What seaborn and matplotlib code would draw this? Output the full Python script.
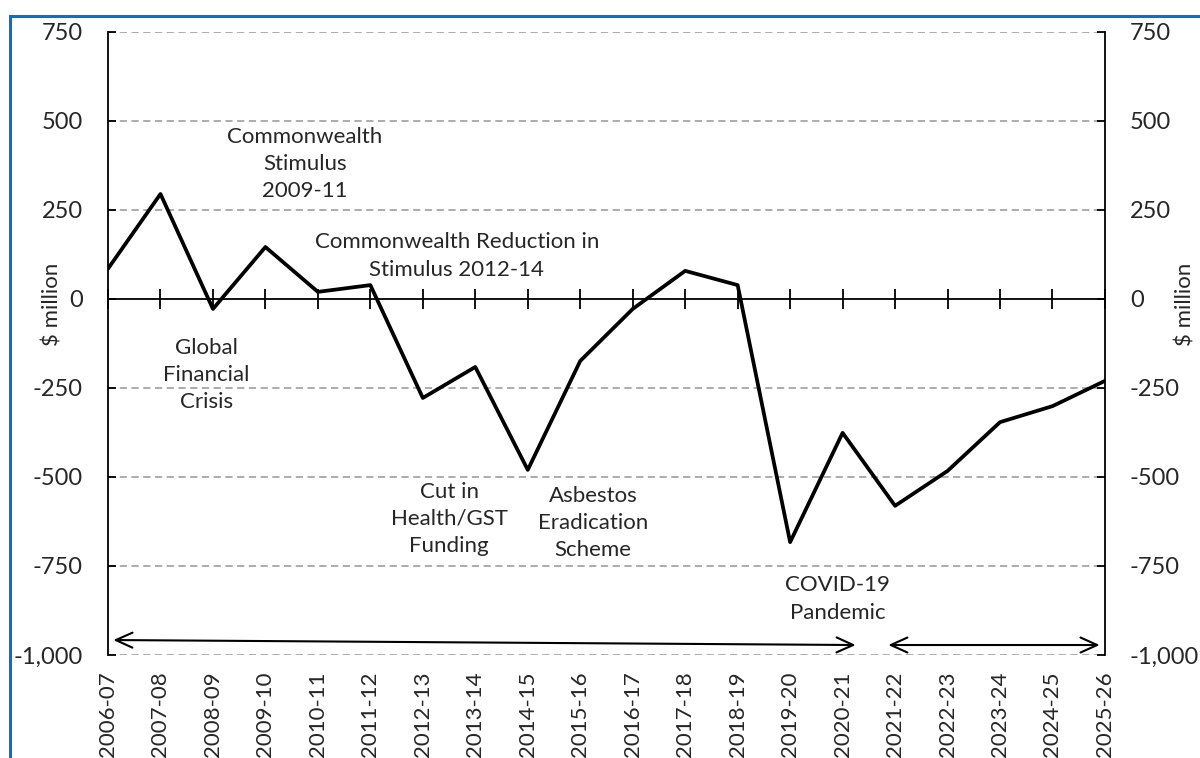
import matplotlib
matplotlib.use("Agg")
import matplotlib.pyplot as plt
import matplotlib.patches as mpatches
from matplotlib.ticker import FuncFormatter, MultipleLocator
import seaborn as sns
import pandas as pd

years = ["2006-07", "2007-08", "2008-09", "2009-10", "2010-11", "2011-12",
         "2012-13", "2013-14", "2014-15", "2015-16", "2016-17", "2017-18",
         "2018-19", "2019-20", "2020-21", "2021-22", "2022-23", "2023-24",
         "2024-25", "2025-26"]
balance = [85, 295, -28, 146, 20, 39, -278, -191, -480, -174, -28, 79,
           39, -683, -376, -581, -483, -346, -301, -230]

notes = [
    ("Commonwealth\nStimulus\n2009-11", 3.75, 379),
    ("Commonwealth Reduction in\nStimulus 2012-14", 6.65, 121),
    ("Global\nFinancial\nCrisis", 1.87, -213),
    ("Cut in\nHealth/GST\nFunding", 6.5, -618),
    ("Asbestos\nEradication\nScheme", 9.24, -629),
    ("COVID-19\nPandemic", 13.91, -843),
]

sns.set_theme(style="white")
plt.rcParams["font.family"] = ["Lato", "DejaVu Sans"]
FS = 16
TFS = 17

df = pd.DataFrame({"year": years, "balance": balance})

fig = plt.figure(figsize=(12, 7.58), dpi=100)
ax = fig.add_axes([0.09, 0.1359, 0.8308, 0.8219])

sns.lineplot(data=df, x="year", y="balance", sort=False, color="black",
             linewidth=2.7, ax=ax)

ax.set_xlim(0, len(years) - 1)
ax.set_ylim(-1000, 750)
ax.yaxis.set_major_locator(MultipleLocator(250))
fmt = FuncFormatter(lambda v, p: f"{v:,.0f}")
ax.yaxis.set_major_formatter(fmt)

# dashed grid, solid zero line
for v in [750, 500, 250, -250, -500, -750, -1000]:
    ax.axhline(v, color="#a6a6a6", linestyle=(0, (4, 2.5)), linewidth=1.3, zorder=0)
ax.axhline(0, color="black", linewidth=1.3, zorder=1)

for s in ["top", "bottom", "right"]:
    ax.spines[s].set_visible(False)
ax.spines["left"].set_color("black")
ax.spines["left"].set_linewidth(1.3)

ax.tick_params(axis="y", direction="in", length=6, width=1.3, color="black",
               labelsize=TFS, pad=18, left=True)
ax.tick_params(axis="x", length=0, labelsize=FS, pad=12, labelrotation=90)
ax.set_xlabel("")
ax.set_ylabel("$ million", fontsize=FS)
ax.yaxis.set_label_coords(-0.046, 0.562)

# category ticks crossing the zero line
zx = ax.secondary_xaxis(1000 / 1750)
zx.set_xticks(range(len(years)))
zx.tick_params(direction="inout", length=14, width=1.3, color="black", labelbottom=False)
zx.set_xticklabels([])
zx.spines["bottom"].set_visible(False)
zx.spines["top"].set_visible(False)

# right-hand axis
ax2 = ax.twinx()
ax2.set_ylim(-1000, 750)
ax2.yaxis.set_major_locator(MultipleLocator(250))
ax2.yaxis.set_major_formatter(fmt)
for s in ["top", "bottom", "left"]:
    ax2.spines[s].set_visible(False)
ax2.spines["right"].set_color("black")
ax2.spines["right"].set_linewidth(1.3)
ax2.tick_params(axis="y", direction="in", length=6, width=1.3, color="black",
                labelsize=TFS, pad=18, right=True)
ax2.set_ylabel("$ million", fontsize=FS, rotation=90)
ax2.yaxis.set_label_coords(1.071, 0.562)
ax2.grid(False)
ax.grid(False)

for text, x, y in notes:
    ax.text(x, y, text, ha="center", va="center", fontsize=FS, linespacing=1.45)

# period arrows
ax.annotate("", xy=(0.1, -958), xytext=(14.25, -972),
            arrowprops=dict(arrowstyle="<->,head_length=1.0,head_width=0.45",
                            color="black", lw=1.5, shrinkA=0, shrinkB=0))
ax.annotate("", xy=(14.87, -972), xytext=(18.9, -972),
            arrowprops=dict(arrowstyle="<->,head_length=1.0,head_width=0.45",
                            color="black", lw=1.5, shrinkA=0, shrinkB=0))

# blue outer frame
fig.patches.append(mpatches.Rectangle((10 / 1200, -0.2), 1.2, 0.2 + 1 - 16 / 758,
                                      transform=fig.transFigure, fill=False,
                                      edgecolor="#0a70c6", linewidth=2.2))

fig.savefig("out.png", dpi=100)
